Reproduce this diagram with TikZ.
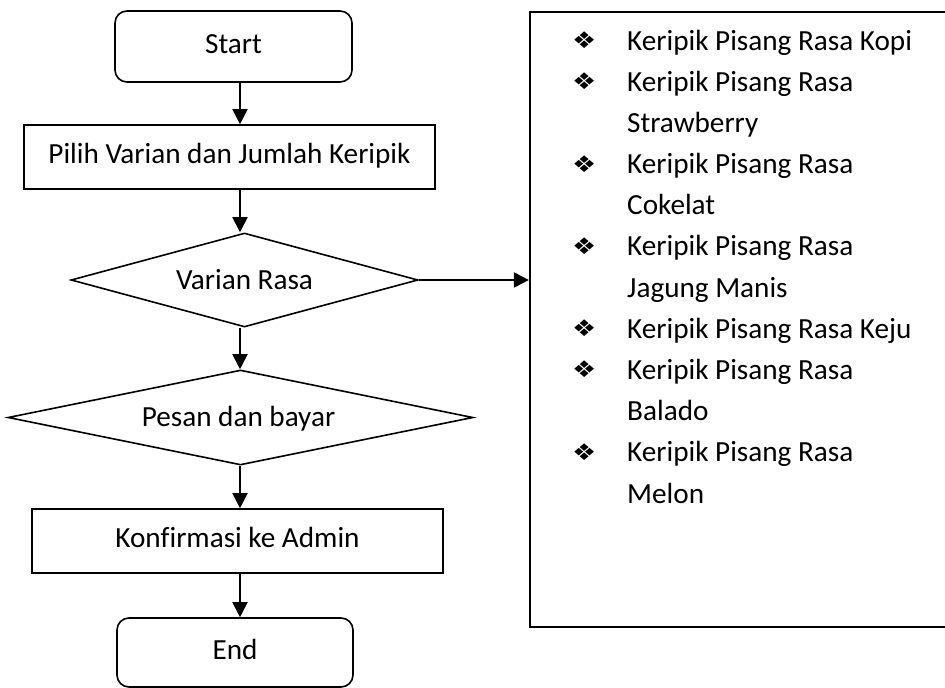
\documentclass[tikz,border=0pt]{standalone}
\usepackage{fontspec}
\usepackage{graphicx}
\setmainfont{Carlito}[Ligatures=NoCommon]
\newfontfamily\bulfont{DejaVu Sans}
\usetikzlibrary{shapes.geometric,arrows.meta}
\newcommand{\bul}{\raisebox{1.5pt}{\scalebox{1}[0.85]{\bulfont\fontsize{27}{27}\selectfont ❖}}}
\begin{document}
\begin{tikzpicture}[x=1pt,y=-1pt,
  every node/.style={font=\fontsize{29.2}{41.18}\selectfont},
  box/.style={draw,line width=1.6pt,inner sep=0pt,text height=20.4pt,text depth=7.3pt},
  rbox/.style={box,rounded corners=12pt},
  dia/.style={draw,line width=1.6pt,shape=diamond,inner sep=0pt},
  lbl/.style={anchor=base,inner sep=0pt},
  itm/.style={anchor=base west,inner sep=0pt},
  arr/.style={line width=2pt,-{Triangle[length=15pt,width=15pt]}}]
\clip (0,0) rectangle (945,688);
\fill[white] (0,0) rectangle (945,688);
\node[rbox,minimum width=237pt,minimum height=71pt] (start) at (233.5,46.5) {Start};
\node[box,minimum width=411pt,minimum height=64pt] (pilih) at (229.5,157) {Pilih Varian dan Jumlah Keripik};
\node[dia,minimum width=347pt,minimum height=94pt] (d1) at (244.5,280) {};
\node[lbl] (t1) at (244.5,289) {Varian Rasa};
\node[dia,minimum width=465pt,minimum height=95pt] (d2) at (240.5,417.5) {};
\node[lbl] (t2) at (238.5,426) {Pesan dan bayar};
\node[box,minimum width=411pt,minimum height=64pt] (konf) at (237.5,541) {Konfirmasi ke Admin};
\node[rbox,minimum width=236pt,minimum height=69pt] (end) at (235,652.5) {End};
\node[draw,line width=2.2pt,minimum width=420pt,minimum height=615pt,inner sep=0pt] (list) at (740,319.5) {};
% bullets
\node[itm] (b1) at (572,50) {\bul};
\node[itm] (b2) at (572,91.2) {\bul};
\node[itm] (b3) at (572,173.5) {\bul};
\node[itm] (b4) at (572,255.9) {\bul};
\node[itm] (b5) at (572,338.3) {\bul};
\node[itm] (b6) at (572,379.4) {\bul};
\node[itm] (b7) at (572,461.8) {\bul};
% item texts
\node[itm] (l1) at (627,50) {Keripik Pisang Rasa Kopi};
\node[itm] (l2) at (627,91.2) {Keripik Pisang Rasa};
\node[itm] (l3) at (627,132.4) {Strawberry};
\node[itm] (l4) at (627,173.5) {Keripik Pisang Rasa};
\node[itm] (l5) at (627,214.7) {Cokelat};
\node[itm] (l6) at (627,255.9) {Keripik Pisang Rasa};
\node[itm] (l7) at (627,297.1) {Jagung Manis};
\node[itm] (l8) at (627,338.3) {Keripik Pisang Rasa Keju};
\node[itm] (l9) at (627,379.4) {Keripik Pisang Rasa};
\node[itm] (l10) at (627,420.6) {Balado};
\node[itm] (l11) at (627,461.8) {Keripik Pisang Rasa};
\node[itm] (l12) at (627,503) {Melon};
\coordinate (ax) at (240,0);
\draw[arr] (start.south -| ax) -- (pilih.north -| ax);
\draw[arr] (pilih.south -| ax) -- (d1.north -| ax);
\draw[arr] (d1.south -| ax) -- (d2.north -| ax);
\draw[arr] (d2.south -| ax) -- (konf.north -| ax);
\draw[arr] (konf.south -| ax) -- (end.north -| ax);
\draw[arr] (d1.east) -- (list.west |- d1.east);
\end{tikzpicture}
\end{document}
